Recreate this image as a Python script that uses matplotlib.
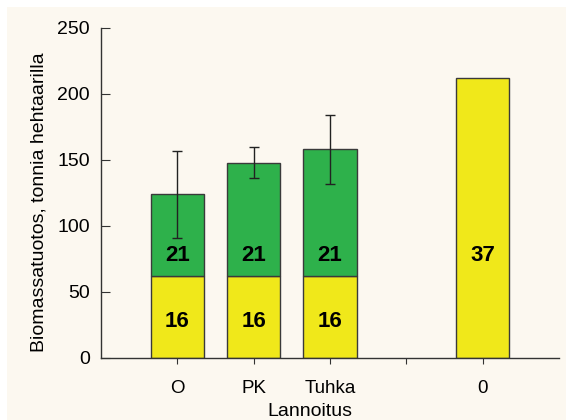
import matplotlib
matplotlib.use("Agg")
import matplotlib.pyplot as plt
from matplotlib.patches import Rectangle

categories = ["O", "PK", "Tuhka", "", "0"]
positions = [1, 2, 3, 4, 5]
stacked_pos = [1, 2, 3]
yellow_vals = [62, 62, 62]
green_tops = [124, 148, 158]
err_vals = [33, 12, 26]
yellow_labels = ["16", "16", "16"]
green_labels = ["21", "21", "21"]
single_pos = 5
single_val = 212
single_label = "37"

plt.rcParams['font.family'] = ['Liberation Sans', 'DejaVu Sans']

fig = plt.figure(figsize=(5.66, 4.2), dpi=100)
fig.patch.set_facecolor("white")
fig.patches.append(Rectangle((7/566, 0), 1, 1 - 7/420, transform=fig.transFigure,
                             facecolor="#fcf8f0", edgecolor="none", zorder=-10))

ax = fig.add_axes([101/566, 62/420, 458/566, 330/420])
ax.set_facecolor("none")

yellow = "#f0e81a"
green = "#2eb14b"
edge = "#3a3a3a"

green_h = [t - y for t, y in zip(green_tops, yellow_vals)]
ax.bar(stacked_pos, yellow_vals, width=0.7, color=yellow, edgecolor=edge, linewidth=1.0)
ax.bar(stacked_pos, green_h, bottom=yellow_vals, width=0.7, color=green, edgecolor=edge,
       linewidth=1.0)
ax.bar([single_pos], [single_val], width=0.7, color=yellow, edgecolor=edge, linewidth=1.0)
ax.errorbar(stacked_pos, green_tops, yerr=err_vals, fmt="none", ecolor="#222222",
            elinewidth=1.0, capsize=3.8, capthick=1.0)

for p, lab in zip(stacked_pos, yellow_labels):
    ax.text(p, 28, lab, ha="center", va="center", fontsize=16, fontweight="bold")
for p, lab in zip(stacked_pos, green_labels):
    ax.text(p, 78, lab, ha="center", va="center", fontsize=16, fontweight="bold")
ax.text(single_pos, 78, single_label, ha="center", va="center", fontsize=16, fontweight="bold")

ax.set_xlim(0, 6)
ax.set_ylim(0, 250)
ax.set_yticks([0, 50, 100, 150, 200, 250])
ax.set_xticks(positions)
ax.set_xticklabels(categories)
for s in ["top", "right"]:
    ax.spines[s].set_visible(False)
for s in ["left", "bottom"]:
    ax.spines[s].set_color("#333333")
    ax.spines[s].set_linewidth(1.0)
ax.tick_params(axis="y", direction="in", length=6.5, labelsize=14, pad=8, color="#333333")
ax.tick_params(axis="x", direction="out", length=4, labelsize=13.5, pad=12, color="#333333")

fig.text(309.5/566, 1 - 412/420, "Lannoitus", ha="center", va="center", fontsize=14)
fig.text(38.6/566, 1 - 202.5/420, "Biomassatuotos, tonnia hehtaarilla", rotation=90,
         ha="center", va="center", fontsize=14)

fig.savefig("out.png", dpi=100)
